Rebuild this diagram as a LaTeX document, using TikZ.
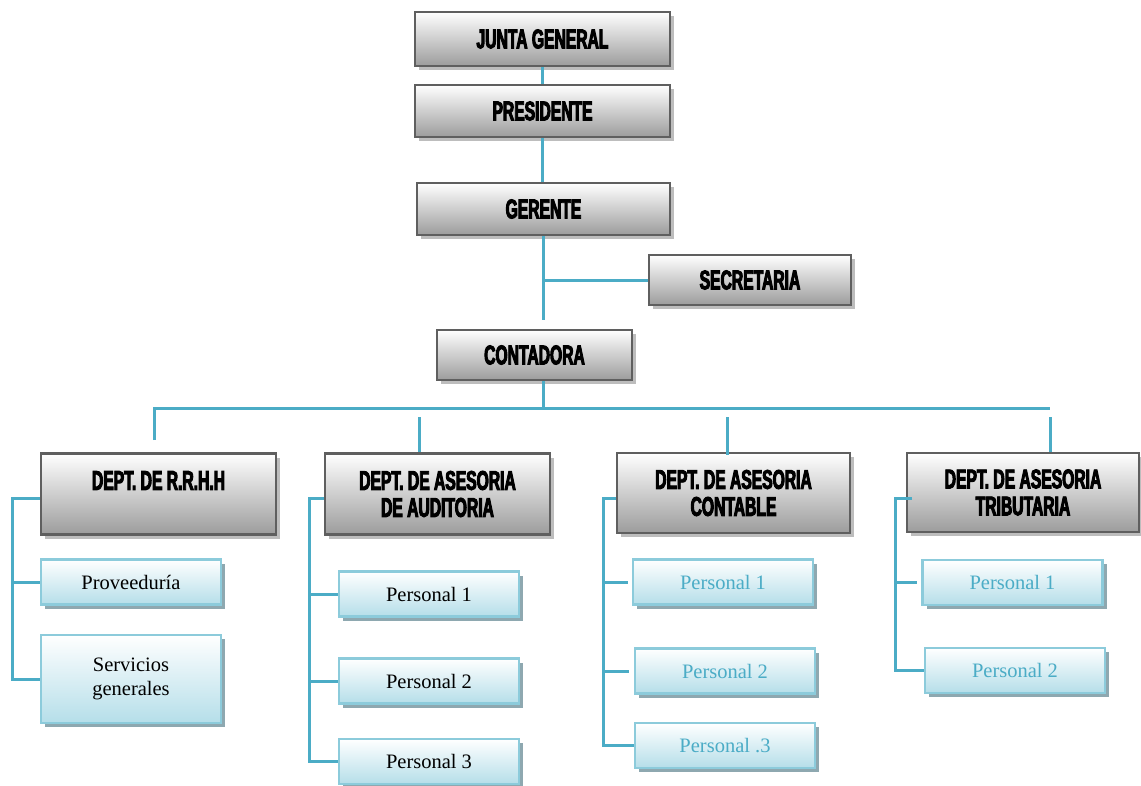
\documentclass[tikz,border=0pt]{standalone}
\usepackage{fontspec}
\setmainfont{Liberation Serif}
\newfontfamily\hfont[FakeStretch=0.58,BoldFeatures={FakeBold=3.5}]{Liberation Sans}
\usetikzlibrary{shadows}
\definecolor{linec}{HTML}{4BACC6}
\definecolor{hbord}{HTML}{5F5F5F}
\definecolor{hbot}{HTML}{9C9C9C}
\definecolor{hshad}{HTML}{BDBDBD}
\definecolor{sbord}{HTML}{8CCBDB}
\definecolor{sbot}{HTML}{B5DEE9}
\definecolor{sshad}{HTML}{8EA8B0}
\definecolor{stext}{HTML}{4BACC6}
\tikzset{
  hbox/.style={draw=hbord, line width=2.5pt, top color=white, bottom color=hbot,
    drop shadow={shadow xshift=4pt, shadow yshift=-4pt, opacity=1, fill=hshad},
    font=\hfont\bfseries\fontsize{27}{27}\selectfont, align=center, inner sep=0pt},
  sbox/.style={draw=sbord, line width=2.5pt, top color=white, bottom color=sbot,
    drop shadow={shadow xshift=4pt, shadow yshift=-4pt, opacity=1, fill=sshad},
    font=\fontsize{20.5}{24}\selectfont, align=center, inner sep=0pt,
    minimum width=180pt, minimum height=45pt},
  btext/.style={text=stext},
  conn/.style={draw=linec, line width=3pt}
}
\begin{document}
\begin{tikzpicture}[x=1pt,y=-1pt]
\useasboundingbox (0,0) rectangle (1141,785);
% top chain
\node[hbox, minimum width=255pt, minimum height=54pt] (jg) at (542.5,39) {JUNTA GENERAL};
\node[hbox, minimum width=255pt, minimum height=52pt] (pres) at (542.5,111) {PRESIDENTE};
\node[hbox, minimum width=253pt, minimum height=52pt] (ger) at (543.5,209) {GERENTE};
\node[hbox, minimum width=202pt, minimum height=50pt] (sec) at (750,280) {SECRETARIA};
\node[hbox, minimum width=195pt, minimum height=50pt] (cont) at (534.5,355) {CONTADORA};
% departments
\node[hbox, minimum width=235pt, minimum height=81pt] (d1) at (158.5,494) {DEPT. DE R.R.H.H\\\mbox{}};
\node[hbox, minimum width=225pt, minimum height=81pt] (d2) at (437.5,494) {DEPT. DE ASESORIA\\DE AUDITORIA};
\node[hbox, minimum width=233pt, minimum height=80pt] (d3) at (733.5,493) {DEPT. DE ASESORIA\\CONTABLE};
\node[hbox, minimum width=232pt, minimum height=79pt] (d4) at (1023,492.5) {DEPT. DE ASESORIA\\TRIBUTARIA};
% sub boxes
\node[sbox] (s11) at (131,582) {Proveeduría};
\node[sbox, minimum height=88pt] (s12) at (131,679) {Servicios\\generales};
\node[sbox] (s21) at (429,594) {Personal 1};
\node[sbox] (s22) at (429,681) {Personal 2};
\node[sbox] (s23) at (429,761.5) {Personal 3};
\node[sbox, btext] (s31) at (723,582) {Personal 1};
\node[sbox, btext] (s32) at (725,671) {Personal 2};
\node[sbox, btext] (s33) at (725,745.5) {Personal .3};
\node[sbox, btext] (s41) at (1012.5,582.5) {Personal 1};
\node[sbox, btext] (s42) at (1015,670.5) {Personal 2};
% coordinates
\coordinate (gend) at (543,320);
\coordinate (busl) at (154,408);
\coordinate (busr) at (1050,408);
\coordinate (dropl) at (154,440);
\coordinate (t2) at (419,417);
\coordinate (t3) at (727,417);
\coordinate (t4) at (1050,417);
\coordinate (b1) at (12,498);
\coordinate (b2) at (309,498);
\coordinate (b3) at (603,498);
\coordinate (b4) at (895,498);
% connectors
\draw[conn] (jg.south) -- (pres.north);
\draw[conn] (pres.south) -- (pres.south |- ger.north);
\draw[conn] (ger.south) -- (ger.south |- gend);
\draw[conn] (ger.south |- sec.west) -- (sec.west);
\draw[conn] (cont.south -| gend) -- (gend |- busl);
\draw[conn] (dropl) -- (busl) -- (busr);
\draw[conn] (t2) -- (t2 |- d2.north);
\draw[conn] (t3) -- ([yshift=-3pt]t3 |- d3.north);
\draw[conn] (t4) -- (t4 |- d4.north);
% brackets
\draw[conn] (b1 -| d1.west) -- (b1) |- (s12.west);
\draw[conn] (b1 |- s11.west) -- (s11.west);
\draw[conn] (b2 -| d2.west) -- (b2) |- (s23.west);
\draw[conn] (b2 |- s21.west) -- (s21.west);
\draw[conn] (b2 |- s22.west) -- (s22.west);
\draw[conn] (b3 -| d3.west) -- (b3) |- (s33.west);
\draw[conn, shorten >=4pt] (b3 |- s31.west) -- (s31.west);
\draw[conn, shorten >=5pt] (b3 |- s32.west) -- (s32.west);
\draw[conn] ([xshift=6pt]b4 -| d4.west) -- (b4) |- (s42.west);
\draw[conn, shorten >=4pt] (b4 |- s41.west) -- (s41.west);
\end{tikzpicture}
\end{document}
